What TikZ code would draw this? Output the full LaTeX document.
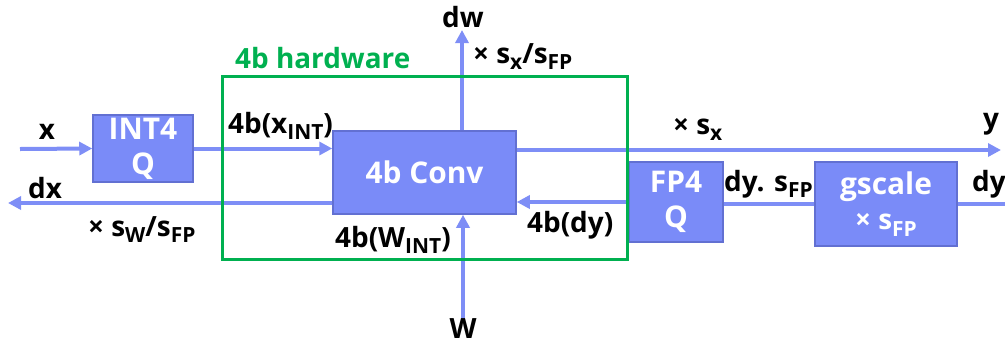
\documentclass[tikz,border=0pt]{standalone}
\usepackage{fontspec}
\setmainfont{Open Sans}
\usetikzlibrary{arrows.meta}
\definecolor{boxfill}{RGB}{122,139,248}
\definecolor{boxline}{RGB}{98,112,210}
\definecolor{arrowc}{RGB}{126,142,246}
\definecolor{hwgreen}{RGB}{0,176,80}
\newcommand{\lo}[1]{\raisebox{-0.24em}{\fontsize{21}{21}\selectfont #1}}
\tikzset{
  blk/.style={draw=boxline, line width=1.5bp, fill=boxfill, text=white,
    font=\fontsize{30}{35}\selectfont\bfseries, align=center, inner sep=0pt},
  lbl/.style={font=\fontsize{28}{32}\selectfont\bfseries, inner sep=0pt, text=black},
  conn/.style={draw=arrowc, line width=4bp},
  arr/.style={conn, -{Triangle[length=13bp,width=13bp]}},
}
\begin{document}
\begin{tikzpicture}[x=1bp,y=-1bp]
\useasboundingbox (0,0) rectangle (1005,346);
% blocks
\node[blk, minimum width=100bp, minimum height=67bp] (int4) at (143,148.5) {INT4\\Q};
\node[blk, minimum width=183bp, minimum height=83bp] (conv) at (424.5,172.5) {4b Conv};
\node[blk, minimum width=94bp, minimum height=80bp] (fp4) at (676,202) {FP4\\Q};
\node[blk, minimum width=142bp, minimum height=84bp] (gscale) at (886,204) {gscale\\{\fontsize{28}{32}\selectfont × s\lo{FP}}};
% coordinates for free ends
\coordinate (xin) at (20,149);
\coordinate (dxout) at (8,203);
\coordinate (dwtop) at (462,30);
\coordinate (wbot) at (463,320);
\coordinate (yout) at (1001,150);
\coordinate (dyin) at (1005,204);
% connectors
\draw[arr] (xin) -- (int4.west);
\draw[arr] (int4.east) -- (int4.east -| conv.west);
\draw[arr] (conv.west |- dxout) -- (dxout);
\draw[arr] (conv.north -| dwtop) -- (dwtop);
\draw[arr] (wbot) -- (wbot |- conv.south);
\draw[arr] (conv.east |- yout) -- (yout);
\draw[arr] (fp4.west) -- (fp4.west -| conv.east);
\draw[conn] (gscale.west) -- (gscale.west -| fp4.east);
\draw[conn] (dyin) -- (gscale.east);
% hardware frame
\draw[hwgreen, line width=3bp] (222,76) rectangle (627,259);
\node[lbl, text=hwgreen, anchor=base west] (hw) at (235,68) {4b hardware};
% labels
\node[lbl, anchor=base] (lx) at (47,139) {x};
\node[lbl, anchor=base] (ldx) at (45,198) {dx};
\node[lbl, anchor=base west] (lsw) at (88,236) {× s\lo{W}/s\lo{FP}};
\node[lbl, anchor=base west] (lxint) at (228,133) {4b(x\lo{INT})};
\node[lbl, anchor=base] (ldw) at (463,27) {dw};
\node[lbl, anchor=base west] (lsx) at (473,63) {× s\lo{x}/s\lo{FP}};
\node[lbl, anchor=base west] (lsx2) at (673,134) {× s\lo{x}};
\node[lbl, anchor=base] (ly) at (991,128) {y};
\node[lbl, anchor=base west] (ldys) at (724,191) {dy. s\lo{FP}};
\node[lbl, anchor=base west] (ldy) at (972,191) {dy};
\node[lbl, anchor=base west] (ldy4) at (527,232) {4b(dy)};
\node[lbl, anchor=base west] (lwint) at (335,247) {4b(W\lo{INT})};
\node[lbl, anchor=base] (lw) at (463,338) {W};
\end{tikzpicture}
\end{document}
